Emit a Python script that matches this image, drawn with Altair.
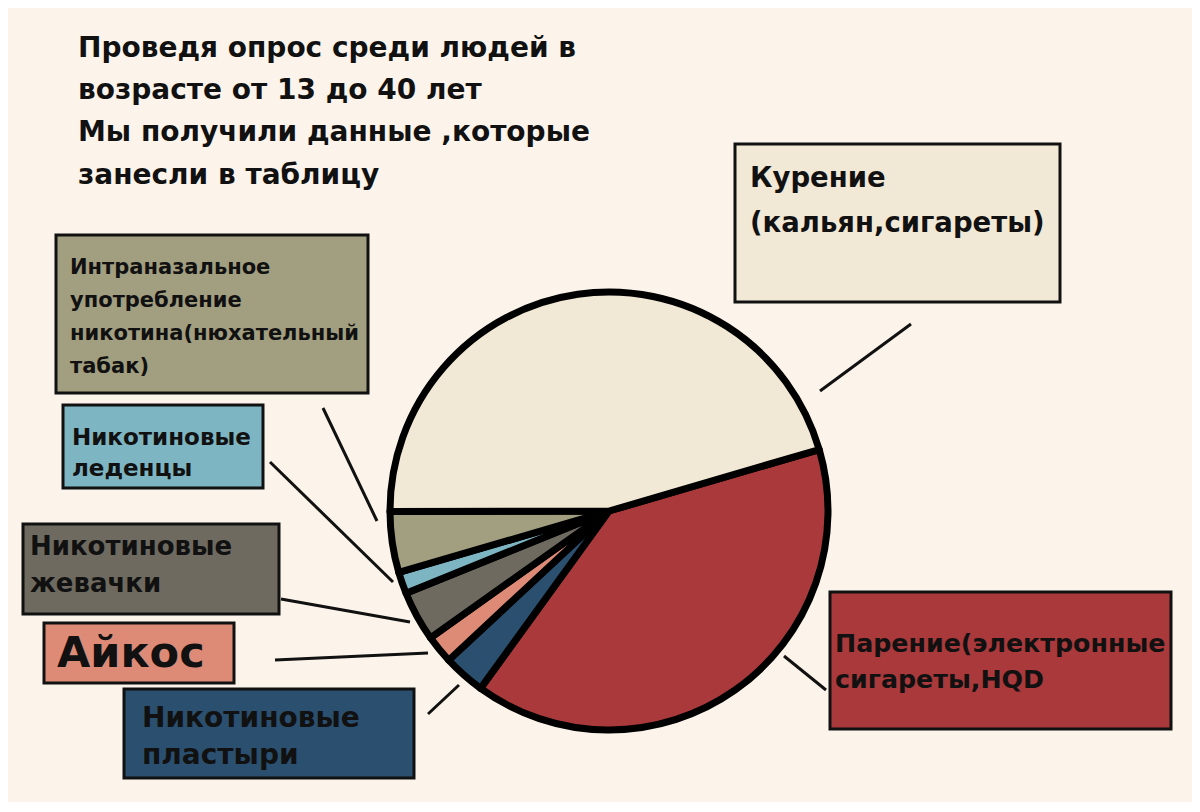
import math
import altair as alt
import pandas as pd

# ---- data ----
categories = ["Парение", "Никотиновые пластыри", "Айкос", "Никотиновые жевачки",
              "Никотиновые леденцы", "Интраназальное употребление", "Курение"]
values = [39.5, 3.1, 2.1, 3.7, 1.6, 4.5, 45.5]
colors = ["#A9393B", "#2B4F6E", "#DD8B77", "#6E6A60", "#7DB5C2", "#A29E80", "#F1E8D6"]

title_lines = ["Проведя опрос среди людей в", "возрасте от 13 до 40 лет",
               "Мы получили данные ,которые", "занесли в таблицу"]

label_lines = [
    ["Курение", "(кальян,сигареты)"],
    ["Парение(электронные", "сигареты,HQD"],
    ["Интраназальное", "употребление", "никотина(нюхательный", "табак)"],
    ["Никотиновые", "леденцы"],
    ["Никотиновые", "жевачки"],
    ["Айкос"],
    ["Никотиновые", "пластыри"],
]
label_colors = ["#F1E8D6", "#A9393B", "#A29E80", "#7DB5C2", "#6E6A60", "#DD8B77", "#2B4F6E"]

# ---- layout (image pixel coordinates) ----
box_x0 = [735, 830, 56, 63, 23, 44, 124]
box_y0 = [144, 592, 235, 405, 524, 623, 689]
box_x1 = [1060, 1171, 368, 263, 279, 234, 414]
box_y1 = [302, 729, 393, 488, 614, 683, 778]
text_x = [750, 835, 70, 72, 30, 57, 142]
text_y = [[187, 232], [652, 688], [274, 307, 340, 373], [445, 476], [555, 592], [667], [727, 764]]
text_size = [27.5, 25.3, 21, 23, 26, 43, 28]

line_x0 = [820, 784, 323, 270, 281, 275, 428]
line_y0 = [391, 656, 408, 462, 599, 660, 714]
line_x1 = [911, 826, 377, 393, 410, 428, 459]
line_y1 = [324, 690, 521, 582, 622, 653, 685]

title_x = 78
title_y = [57, 99, 141, 184]
title_size = 28

pie_cx, pie_cy, pie_r = 609, 511, 219
start_deg = 73.7

FONT = "DejaVu Sans"
BG = "#FCF4EA"
W, H = 1184, 794

xs = alt.Scale(domain=[8, 8 + W])
ys = alt.Scale(domain=[8, 8 + H], reverse=True)

pie_df = pd.DataFrame({"category": categories, "value": values,
                       "color": colors, "order": list(range(len(values)))})

a0 = math.radians(start_deg)
pie = alt.Chart(pie_df).mark_arc(radius=pie_r, stroke="black", strokeWidth=7,
                                 strokeJoin="round").encode(
    theta=alt.Theta("value:Q", stack=True,
                    scale=alt.Scale(domain=[0, sum(values)], range=[a0, a0 + 2 * math.pi])),
    color=alt.Color("color:N", scale=None),
    order=alt.Order("order:Q"),
    x=alt.value(pie_cx - 8),
    y=alt.value(pie_cy - 8),
)

box_df = pd.DataFrame({"x0": box_x0, "y0": box_y0, "x1": box_x1, "y1": box_y1,
                       "fill": label_colors})
boxes = alt.Chart(box_df).mark_rect(stroke="#111111", strokeWidth=3).encode(
    x=alt.X("x0:Q", scale=xs, axis=None), x2="x1:Q",
    y=alt.Y("y0:Q", scale=ys, axis=None), y2="y1:Q",
    color=alt.Color("fill:N", scale=None),
)

line_df = pd.DataFrame({"x0": line_x0, "y0": line_y0, "x1": line_x1, "y1": line_y1})
lines = alt.Chart(line_df).mark_rule(color="#111111", strokeWidth=3).encode(
    x=alt.X("x0:Q", scale=xs, axis=None), x2="x1:Q",
    y=alt.Y("y0:Q", scale=ys, axis=None), y2="y1:Q",
)

rows = []
for i, ls in enumerate(label_lines):
    for j, t in enumerate(ls):
        rows.append({"x": text_x[i], "y": text_y[i][j], "t": t, "fs": text_size[i]})
for j, t in enumerate(title_lines):
    rows.append({"x": title_x, "y": title_y[j], "t": t, "fs": title_size})
text_df = pd.DataFrame(rows)
texts = alt.Chart(text_df).mark_text(align="left", baseline="alphabetic", font=FONT,
                                     fontWeight="bold", color="#111111").encode(
    x=alt.X("x:Q", scale=xs, axis=None),
    y=alt.Y("y:Q", scale=ys, axis=None),
    text="t:N",
    size=alt.Size("fs:Q", scale=None),
)

chart = alt.layer(pie, boxes, lines, texts).properties(
    width=W, height=H, background=BG, padding=0,
    autosize=alt.AutoSizeParams(type="none"),
).configure_view(stroke=None)

chart.save("out.html", embed_options={"renderer": "svg", "actions": False})
